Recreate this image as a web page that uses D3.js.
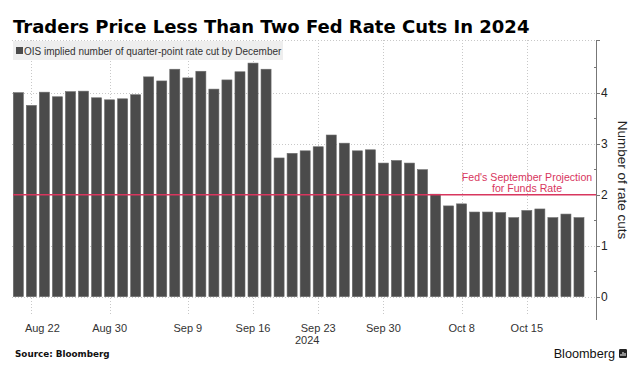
<!DOCTYPE html>
<html>
<head>
<meta charset="utf-8">
<script src="https://cdn.jsdelivr.net/npm/d3@7"></script>
<style>
  body { margin: 0; background: #fff; }
  text { font-family: "Liberation Sans", Arial, sans-serif; }
</style>
</head>
<body>
<div id="chart-area"></div>
<script>
// one bar per weekday, Aug 21 - Oct 21 2024
var dates = [
  "2024-08-21", "2024-08-22", "2024-08-23", "2024-08-26", "2024-08-27", "2024-08-28", "2024-08-29", "2024-08-30",
  "2024-09-02", "2024-09-03", "2024-09-04", "2024-09-05", "2024-09-06",
  "2024-09-09", "2024-09-10", "2024-09-11", "2024-09-12", "2024-09-13",
  "2024-09-16", "2024-09-17", "2024-09-18", "2024-09-19", "2024-09-20",
  "2024-09-23", "2024-09-24", "2024-09-25", "2024-09-26", "2024-09-27",
  "2024-09-30", "2024-10-01", "2024-10-02", "2024-10-03", "2024-10-04",
  "2024-10-07", "2024-10-08", "2024-10-09", "2024-10-10", "2024-10-11",
  "2024-10-14", "2024-10-15", "2024-10-16", "2024-10-17", "2024-10-18",
  "2024-10-21"
];

var cuts = [
  4.00, 3.75, 4.01, 3.92, 4.02, 4.03, 3.90, 3.86,
  3.88, 3.96, 4.31, 4.23, 4.46,
  4.29, 4.42, 4.07, 4.25, 4.41,
  4.58, 4.46, 2.72, 2.81, 2.86,
  2.94, 3.17, 3.01, 2.86, 2.88,
  2.62, 2.67, 2.62, 2.49, 2.01,
  1.78, 1.82, 1.66, 1.66, 1.65,
  1.55, 1.69, 1.72, 1.55, 1.62,
  1.55
];

var tickDates = ["2024-08-22", "2024-08-30", "2024-09-09", "2024-09-16", "2024-09-23", "2024-09-30", "2024-10-08", "2024-10-15"];
var tickLabels = ["Aug 22", "Aug 30", "Sep 9", "Sep 16", "Sep 23", "Sep 30", "Oct 8", "Oct 15"];
var yTicks = [0, 1, 2, 3, 4];
var yMinorTicks = [0.5, 1.5, 2.5, 3.5, 4.5];
var fedProjection = 2;

var title = "Traders Price Less Than Two Fed Rate Cuts In 2024";
var legendLabel = "OIS implied number of quarter-point rate cut by December";
var yTitle = "Number of rate cuts";
var projLines = ["Fed's September Projection", "for Funds Rate"];

var width = 644;
var height = 375;
var plot = { left: 12, right: 596, top: 40, bottom: 320 };

var svg = d3.select("#chart-area")
  .append("svg")
  .attr("width", width)
  .attr("height", height);

var x = d3.scaleBand()
  .domain(dates)
  .range([11.8, 585.5])
  .paddingInner(0.23)
  .paddingOuter(0.115);

var y = d3.scaleLinear()
  .domain([-0.457, 5.033])
  .range([plot.bottom, plot.top]);

function xMid(d) {
  return x(d) + x.bandwidth() / 2;
}

// title
svg.append("text")
  .attr("x", 13)
  .attr("y", 33)
  .style("font-family", "'DejaVu Sans', sans-serif")
  .style("font-weight", "bold")
  .style("font-size", "18px")
  .attr("fill", "#000")
  .text(title);

// grid
var grid = svg.append("g")
  .attr("stroke", "#c8c8c8")
  .attr("stroke-width", 1)
  .attr("stroke-dasharray", "1,2");

grid.append("line")
  .attr("x1", plot.left).attr("x2", plot.right)
  .attr("y1", plot.top + 0.5).attr("y2", plot.top + 0.5);

grid.selectAll(".hgrid")
  .data(yTicks.filter(function(d){ return d !== fedProjection; }))
  .enter()
  .append("line")
  .attr("class", "hgrid")
  .attr("x1", plot.left).attr("x2", plot.right)
  .attr("y1", function(d){ return Math.round(y(d)) + 0.5; })
  .attr("y2", function(d){ return Math.round(y(d)) + 0.5; });

grid.selectAll(".vgrid")
  .data(tickDates)
  .enter()
  .append("line")
  .attr("class", "vgrid")
  .attr("x1", function(d){ return Math.round(xMid(d)) + 0.5; })
  .attr("x2", function(d){ return Math.round(xMid(d)) + 0.5; })
  .attr("y1", plot.top)
  .attr("y2", 316);

// legend
svg.append("rect")
  .attr("x", 13).attr("y", 41)
  .attr("width", 270).attr("height", 19)
  .attr("fill", "#eeeeee");

svg.append("rect")
  .attr("x", 16).attr("y", 47)
  .attr("width", 7).attr("height", 7)
  .attr("fill", "#4b4b4b");

svg.append("text")
  .attr("x", 24)
  .attr("y", 54.5)
  .style("font-size", "10px")
  .attr("fill", "#333")
  .text(legendLabel);

// bars
svg.append("g")
  .selectAll("rect")
  .data(cuts)
  .enter()
  .append("rect")
  .attr("x", function(d, i){ return x(dates[i]); })
  .attr("y", function(d){ return y(d); })
  .attr("width", x.bandwidth())
  .attr("height", function(d){ return y(0) - y(d); })
  .attr("fill", "#4b4b4b")
  .attr("stroke", "#6a6a6a")
  .attr("stroke-width", 0.6);

// fed projection line
svg.append("line")
  .attr("x1", 13).attr("x2", plot.right)
  .attr("y1", y(fedProjection)).attr("y2", y(fedProjection))
  .attr("stroke", "#d8365e")
  .attr("stroke-width", 1.4);

svg.append("g")
  .selectAll("text")
  .data(projLines)
  .enter()
  .append("text")
  .attr("x", 527)
  .attr("y", function(d, i){ return y(fedProjection) - 14 + i * 11; })
  .attr("text-anchor", "middle")
  .style("font-size", "10.6px")
  .attr("fill", "#d8365e")
  .text(function(d){ return d; });

// right axis
var axis = svg.append("g")
  .attr("stroke", "#777")
  .attr("stroke-width", 1);

axis.append("line")
  .attr("x1", plot.right + 0.5).attr("x2", plot.right + 0.5)
  .attr("y1", plot.top).attr("y2", plot.bottom);

axis.append("line")
  .attr("x1", plot.right).attr("x2", plot.right + 4)
  .attr("y1", plot.top + 0.5).attr("y2", plot.top + 0.5);

axis.selectAll(".major")
  .data(yTicks)
  .enter()
  .append("line")
  .attr("class", "major")
  .attr("x1", plot.right).attr("x2", plot.right + 4)
  .attr("y1", function(d){ return Math.round(y(d)) + 0.5; })
  .attr("y2", function(d){ return Math.round(y(d)) + 0.5; });

axis.selectAll(".minor")
  .data(yMinorTicks)
  .enter()
  .append("line")
  .attr("class", "minor")
  .attr("x1", plot.right - 2).attr("x2", plot.right)
  .attr("y1", function(d){ return Math.round(y(d)) + 0.5; })
  .attr("y2", function(d){ return Math.round(y(d)) + 0.5; });

svg.append("g")
  .selectAll("text")
  .data(yTicks)
  .enter()
  .append("text")
  .attr("x", 601)
  .attr("y", function(d){ return y(d) + 4.5; })
  .style("font-size", "12px")
  .attr("fill", "#222")
  .text(function(d){ return d; });

svg.append("text")
  .attr("transform", "translate(618, 180) rotate(90)")
  .attr("text-anchor", "middle")
  .style("font-size", "13.5px")
  .attr("fill", "#222")
  .text(yTitle);

// x tick labels
svg.append("g")
  .selectAll("text")
  .data(tickDates)
  .enter()
  .append("text")
  .attr("x", function(d, i){ return xMid(d) + (i === 0 ? 11 : 0); })
  .attr("y", 331.5)
  .attr("text-anchor", "middle")
  .style("font-size", "11px")
  .attr("fill", "#333")
  .text(function(d, i){ return tickLabels[i]; });

svg.append("text")
  .attr("x", xMid("2024-09-23") - 11)
  .attr("y", 344)
  .attr("text-anchor", "middle")
  .style("font-size", "11px")
  .attr("fill", "#333")
  .text("2024");

// footer
svg.append("text")
  .attr("x", 15)
  .attr("y", 357)
  .style("font-family", "'DejaVu Sans', sans-serif")
  .style("font-weight", "bold")
  .style("font-size", "8.8px")
  .attr("fill", "#111")
  .text("Source: Bloomberg");

svg.append("text")
  .attr("x", 615)
  .attr("y", 358)
  .attr("text-anchor", "end")
  .style("font-size", "12.7px")
  .style("font-weight", "500")
  .attr("fill", "#111")
  .text("Bloomberg");

var logo = svg.append("g").attr("transform", "translate(619, 349)");
logo.append("rect")
  .attr("width", 8).attr("height", 9).attr("rx", 1.2)
  .attr("fill", "#222");
logo.selectAll("line")
  .data([[2, 5], [4, 3], [6, 4]])
  .enter()
  .append("line")
  .attr("x1", function(d){ return d[0]; })
  .attr("x2", function(d){ return d[0]; })
  .attr("y1", function(d){ return d[1]; })
  .attr("y2", 7)
  .attr("stroke", "#fff")
  .attr("stroke-width", 1);
</script>
</body>
</html>
